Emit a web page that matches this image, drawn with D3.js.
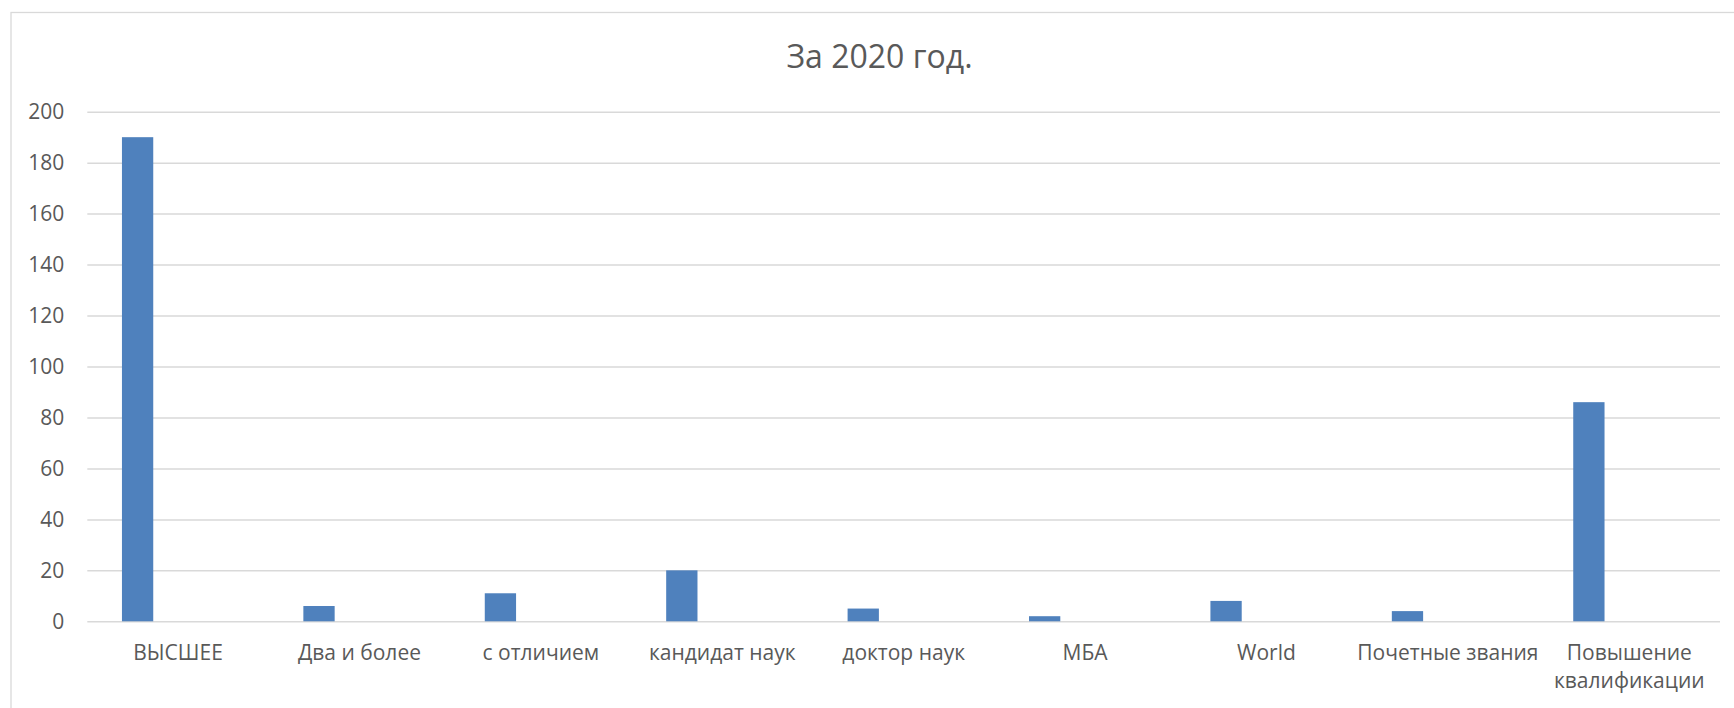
<!DOCTYPE html>
<html>
<head>
<meta charset="utf-8">
<script src="https://cdn.jsdelivr.net/npm/d3@7"></script>
<style>
  html, body { margin: 0; padding: 0; background: #ffffff; }
  svg { display: block; }
  text { font-family: "Open Sans", "Noto Sans", sans-serif; fill: #595959; }
</style>
</head>
<body>
<svg id="chart" width="1734" height="708"></svg>
<script>
// ---- data ----
const title = "За 2020 год.";
const categories = ["ВЫСШЕЕ", "Два и более", "с отличием", "кандидат наук", "доктор наук", "МБА", "World", "Почетные звания", "Повышение квалификации"];
const values = [190, 6, 11, 20, 5, 2, 8, 4, 86];
const yTicks = [0, 20, 40, 60, 80, 100, 120, 140, 160, 180, 200];

// ---- layout ----
const W = 1734, H = 708;
const plot = { left: 87.3, right: 1720, top: 111.7, bottom: 621.3 };

const svg = d3.select("#chart");

// chart area border
svg.append("rect")
  .attr("x", 11).attr("y", 12.5)
  .attr("width", W + 20).attr("height", H + 20)
  .attr("fill", "#ffffff")
  .attr("stroke", "#d9d9d9").attr("stroke-width", 1.3);

const x = d3.scaleBand().domain(categories).range([plot.left, plot.right]).paddingInner(0).paddingOuter(0);
const y = d3.scaleLinear().domain([0, 200]).range([plot.bottom, plot.top]);

// gridlines
const yAxis = d3.axisLeft(y).tickValues(yTicks).tickSize(-(plot.right - plot.left)).tickPadding(23).tickFormat(d3.format("d"));
const gy = svg.append("g").attr("transform", `translate(${plot.left},0)`).call(yAxis);
gy.select(".domain").remove();
gy.selectAll(".tick line").attr("stroke", "#d9d9d9").attr("stroke-width", 1.5);
gy.selectAll(".tick text").attr("font-size", 21).attr("fill", "#595959")
  .attr("font-family", "'Open Sans', 'Noto Sans', sans-serif");

// bars (first series slot in a clustered layout)
const bw = x.bandwidth();
svg.append("g").selectAll("rect")
  .data(categories.map((c, i) => ({ c, v: values[i] })))
  .join("rect")
  .attr("x", d => x(d.c) + bw * 0.191)
  .attr("width", bw * 0.1725)
  .attr("y", d => y(d.v))
  .attr("height", d => y(0) - y(d.v))
  .attr("fill", "#4f81bd");

// category axis labels
const xAxis = d3.axisBottom(x).tickSize(0).tickPadding(0);
const gx = svg.append("g").attr("transform", `translate(0,${plot.bottom})`).call(xAxis);
gx.select(".domain").remove();
gx.selectAll(".tick text")
  .attr("font-size", 21).attr("fill", "#595959")
  .attr("font-family", "'Open Sans', 'Noto Sans', sans-serif")
  .attr("y", 0).attr("dy", 0)
  .each(function(d) {
    const t = d3.select(this);
    t.text(null);
    const words = d.split(" ");
    const tmp = t.append("tspan").text(d);
    const len = tmp.node().getComputedTextLength();
    tmp.remove();
    if (len > 200 && words.length > 1) {
      words.forEach((w, k) => {
        t.append("tspan").attr("x", 0).attr("y", 38.7 + k * 28.3).text(w);
      });
    } else {
      t.append("tspan").attr("x", 0).attr("y", 38.7).text(d);
    }
  });

// title
svg.append("text")
  .attr("x", 879.5).attr("y", 68)
  .attr("text-anchor", "middle")
  .attr("font-size", 32)
  .attr("fill", "#595959")
  .text(title);
</script>
</body>
</html>
